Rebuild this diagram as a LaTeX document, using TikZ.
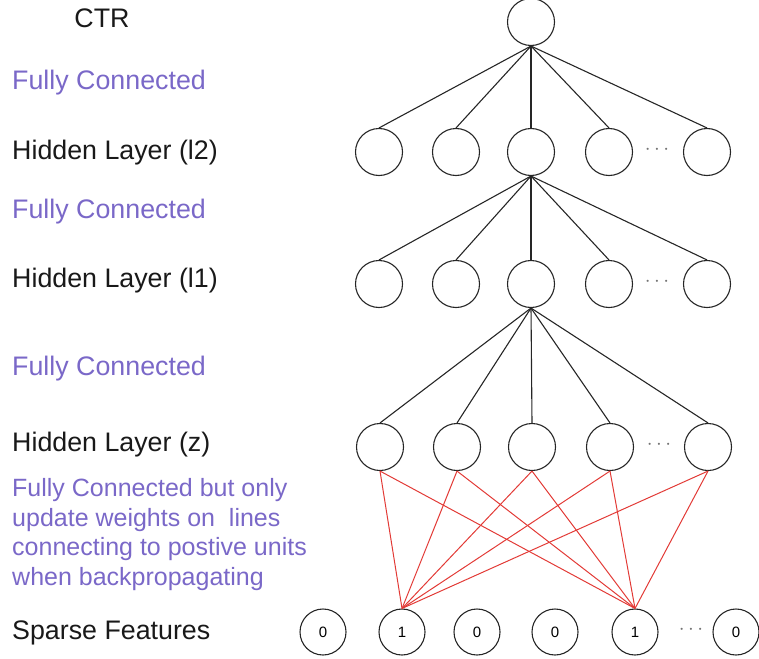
\documentclass[tikz,border=0pt]{standalone}
\usepackage{fontspec}
\setmainfont{Liberation Sans}
\usepackage{tikz}
\usetikzlibrary{calc}

\definecolor{fcpurple}{HTML}{7A68C8}
\definecolor{linkred}{HTML}{E23A36}

\tikzset{
  unit/.style={circle, draw=black!85, line width=1.1pt, minimum size=47pt, inner sep=0pt},
  feat/.style={unit, minimum size=46pt, font=\fontsize{15}{17}\selectfont},
  lbl/.style={anchor=base west, inner sep=0pt, text=black!90, font=\fontsize{26.8}{31}\selectfont},
  fc/.style={lbl, text=fcpurple},
  link/.style={draw=black!85, line width=1.1pt},
  redlink/.style={draw=linkred, line width=1pt},
  gap/.style={text=black!55, font=\fontsize{21}{24}\selectfont}
}

\begin{document}
\begin{tikzpicture}[x=1pt,y=-1pt]
  \useasboundingbox (0,0) rectangle (759,658); % 画布大小

  % 左侧文字
  \node[lbl, anchor=base] (ctrlbl) at (102,28) {CTR};
  \node[fc] (fcA) at (12,90) {Fully Connected};
  \node[lbl] (hidA) at (12,159) {Hidden Layer (l2)};
  \node[fc] (fcB) at (12,218) {Fully Connected};
  \node[lbl] (hidB) at (12,287) {Hidden Layer (l1)};
  \node[fc] (fcC) at (12,375) {Fully Connected};
  \node[lbl] (hidZ) at (12,451) {Hidden Layer (z)};
  \node[fc, anchor=north west, align=left,
        font=\fontsize{25}{29.8}\selectfont] (fcD) at (12,478)
       {Fully Connected but only\\update weights on~ lines\\connecting to postive units\\when backpropagating};
  \node[lbl] (sparse) at (12,639) {Sparse Features};

  % 各层神经元
  \node[unit] (ctr) at (531,22) {};
  \foreach \i/\x in {1/379,2/456,3/531,4/609,5/707}
    {
     \node[unit] (a\i) at (\x,152) {};
     \node[unit] (b\i) at (\x,284) {};
     \node[unit] (z\i) at (\x+1,447) {};
    }
  \foreach \i/\x/\v in {1/323/0,2/402/1,3/477/0,4/555/0,5/635/1,6/736/0}
     \node[feat] (s\i) at (\x,632) {\v};

  % 省略号
  \node[gap] (dotsA) at (657,150) {$\cdots$};
  \node[gap] (dotsB) at (657,282) {$\cdots$};
  \node[gap] (dotsZ) at (659,445) {$\cdots$};
  \node[gap] (dotsS) at (691,630) {$\cdots$};

  % 全连接
  \foreach \i in {1,...,5}
    {
     \draw[link] (ctr.south) -- (a\i.north);
     \draw[link] (a3.south) -- (b\i.north);
     \draw[link] (b3.south) -- (z\i.north);
     \draw[redlink] (z\i.south) -- (s2.north); % 只连到取值为1的特征
     \draw[redlink] (z\i.south) -- (s5.north);
    }
\end{tikzpicture}
\end{document}
